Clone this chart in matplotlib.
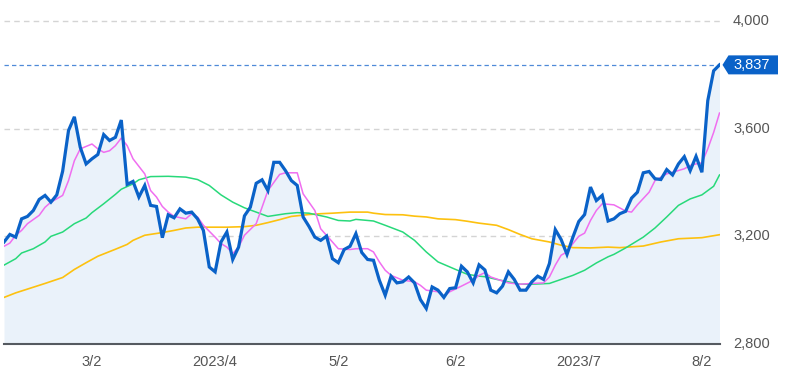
import numpy as np
import pandas as pd
import matplotlib
matplotlib.use("Agg")
import matplotlib.pyplot as plt
from matplotlib.patches import Polygon
from matplotlib.transforms import blended_transform_factory

# trading days (Tokyo), Feb 8 - Aug 7 2023
holidays = ["2023-02-23", "2023-03-21", "2023-05-03", "2023-05-04", "2023-05-05", "2023-07-17"]
dates = pd.bdate_range("2023-02-08", "2023-08-07", freq="C", holidays=holidays)

price = [
    3179, 3207, 3197, 3265, 3274, 3296, 3337, 3352, 3327, 3354,
    3442, 3593, 3644, 3531, 3469, 3488, 3504, 3578, 3556, 3568,
    3632, 3393, 3404, 3346, 3389, 3315, 3311, 3195, 3280, 3269,
    3302, 3286, 3290, 3265, 3222, 3086, 3068, 3179, 3216, 3114,
    3160, 3276, 3308, 3397, 3410, 3370, 3475, 3475, 3444, 3407,
    3389, 3272, 3237, 3197, 3185, 3201, 3117, 3102, 3151, 3163,
    3210, 3140, 3114, 3111, 3037, 2981, 3052, 3027, 3031, 3049,
    3027, 2965, 2932, 3012, 3000, 2973, 3006, 3009, 3089, 3068,
    3027, 3094, 3075, 3000, 2990, 3015, 3068, 3040, 3000, 3000,
    3031, 3052, 3040, 3099, 3225, 3188, 3133, 3197, 3255, 3281,
    3383, 3333, 3352, 3257, 3265, 3284, 3293, 3342, 3364, 3436,
    3441, 3414, 3411, 3448, 3428, 3469, 3496, 3444, 3497, 3438,
    3704, 3815, 3837,
]

# moving averages at selected trading-day indices
ma_short_idx = [0, 1, 2, 3, 4, 6, 7, 8, 10, 11, 12, 13, 15, 16, 17, 18, 19, 20, 21, 22,
                24, 25, 26, 27, 28, 29, 31, 32, 33, 34, 36, 37, 38, 39, 40, 41, 43, 44, 45, 47,
                48, 50, 51, 53, 54, 56, 57, 59, 60, 62, 63, 64, 65, 66, 68, 70, 71, 72, 74, 75,
                76, 78, 80, 81, 82, 83, 85, 86, 88, 90, 92, 93, 94, 95, 96, 97, 98, 99, 100, 101,
                102, 104, 106, 107, 108, 110, 111, 113, 114, 116, 117, 118, 119, 120, 121, 122]
ma_short = [3163, 3175, 3204, 3222, 3247, 3278, 3308, 3327, 3352, 3407, 3481, 3525, 3543, 3525, 3512, 3518, 3537, 3565, 3537, 3488,
            3432, 3370, 3346, 3311, 3290, 3274, 3265, 3284, 3272, 3241, 3197, 3173, 3160, 3136, 3160, 3204, 3247, 3308, 3370, 3430,
            3436, 3436, 3358, 3296, 3228, 3179, 3154, 3151, 3154, 3154, 3142, 3105, 3074, 3055, 3037, 3031, 3018, 3000, 2994, 2978,
            2994, 3015, 3037, 3055, 3065, 3049, 3034, 3027, 3022, 3025, 3027, 3049, 3093, 3130, 3142, 3173, 3200, 3212, 3259, 3296,
            3321, 3317, 3294, 3290, 3317, 3364, 3407, 3432, 3438, 3451, 3463, 3469, 3473, 3525, 3586, 3658]

ma_mid_idx = [0, 2, 3, 5, 7, 8, 10, 12, 14, 15, 17, 19, 20, 22, 23, 25, 28, 31, 33, 35,
              37, 39, 41, 43, 45, 48, 50, 52, 55, 57, 59, 60, 63, 65, 68, 70, 72, 74, 77, 79,
              81, 82, 84, 86, 88, 90, 93, 95, 97, 99, 101, 103, 104, 106, 109, 111, 113, 115, 117, 119,
              121, 122]
ma_mid = [3093, 3117, 3138, 3154, 3179, 3200, 3216, 3247, 3268, 3288, 3321, 3356, 3375, 3395, 3410, 3422, 3423, 3420, 3411, 3389,
          3354, 3327, 3306, 3290, 3274, 3284, 3288, 3286, 3272, 3259, 3257, 3263, 3257, 3241, 3216, 3185, 3142, 3105, 3077, 3059,
          3052, 3050, 3040, 3031, 3022, 3022, 3025, 3040, 3055, 3074, 3101, 3124, 3133, 3157, 3197, 3231, 3272, 3315, 3339, 3354,
          3386, 3428]

ma_long_idx = [0, 2, 4, 7, 10, 12, 14, 16, 19, 21, 22, 24, 27, 29, 31, 33, 38, 41, 43, 45,
               47, 49, 52, 54, 56, 59, 62, 63, 65, 68, 70, 72, 74, 77, 79, 81, 84, 86, 88, 90,
               93, 95, 97, 100, 103, 105, 109, 112, 115, 119, 122]
ma_long = [2973, 2990, 3004, 3025, 3047, 3077, 3102, 3126, 3152, 3170, 3185, 3204, 3214, 3222, 3231, 3234, 3234, 3236, 3241, 3251,
           3262, 3274, 3281, 3284, 3286, 3290, 3290, 3286, 3281, 3280, 3275, 3272, 3265, 3262, 3256, 3249, 3241, 3225, 3207, 3191,
           3179, 3167, 3158, 3157, 3160, 3158, 3164, 3179, 3191, 3195, 3206]

tick_dates = ["2023-03-02", "2023-04-03", "2023-05-02", "2023-06-02", "2023-07-03", "2023-08-02"]
tick_labels = ["3/2", "2023/4", "5/2", "6/2", "2023/7", "8/2"]
y_ticks = [2800, 3200, 3600, 4000]

plt.rcParams["font.family"] = ["Liberation Sans", "DejaVu Sans"]

W, H = 806, 382
fig = plt.figure(figsize=(W / 100, H / 100), dpi=100)
x0, x1, ytop, ybot = 4, 719.5, 21, 344
ax = fig.add_axes([x0 / W, (H - ybot) / H, (x1 - x0) / W, (ybot - ytop) / H])

x = np.arange(len(price))
ax.fill_between(x, price, 2800, color="#eaf2fa", lw=0, zorder=1)

for yv in y_ticks[1:]:
    ax.axhline(yv, color="#d4d4d4", lw=1, ls=(0, (4, 3)), zorder=0, clip_on=False)

ax.plot(ma_long_idx, ma_long, color="#fdc10f", lw=1.2, zorder=2)
ax.plot(ma_mid_idx, ma_mid, color="#28d97a", lw=1.1, zorder=2)
ax.plot(ma_short_idx, ma_short, color="#f06ef0", lw=1.1, zorder=3)
ax.plot(x, price, color="#0a62c8", lw=2.3, solid_joinstyle="miter", zorder=4)

last = price[-1]
ax.axhline(last, color="#4f8ad8", lw=0.9, ls=(0, (3.5, 2.5)), zorder=3)

ax.set_xlim(0, len(price) - 1)
ax.set_ylim(2800, 4000)

pos = [dates.get_loc(pd.Timestamp(d)) for d in tick_dates]
ax.set_xticks(pos)
ax.set_xticklabels(tick_labels, fontsize=10.5, color="#555555")
ax.tick_params(axis="x", length=0, pad=8)
ax.set_yticks([])

for s in ["left", "top", "right"]:
    ax.spines[s].set_visible(False)
ax.spines["bottom"].set_color("#555a60")
ax.spines["bottom"].set_linewidth(1.5)
ax.spines["bottom"].set_zorder(5)

# right-hand value labels
aw = x1 - x0
tr = blended_transform_factory(ax.transAxes, ax.transData)
for yv in y_ticks:
    ax.text((733 - x0) / aw, yv, f"{yv:,}", transform=tr, ha="left", va="center",
            fontsize=10.5, color="#555555", clip_on=False)

# current value tag
ppu = (ybot - ytop) / 1200.0
hh = 9.5 / ppu
tag = Polygon([((722.5 - x0) / aw, last), ((728.5 - x0) / aw, last + hh),
               ((778 - x0) / aw, last + hh), ((778 - x0) / aw, last - hh),
               ((728.5 - x0) / aw, last - hh)],
              closed=True, transform=tr, facecolor="#0a62c8", edgecolor="none",
              clip_on=False, zorder=6)
ax.add_patch(tag)
ax.text((752 - x0) / aw, last, f"{last:,}", transform=tr, ha="center", va="center",
        fontsize=10.5, color="white", clip_on=False, zorder=7)

fig.savefig("out.png", dpi=100)
